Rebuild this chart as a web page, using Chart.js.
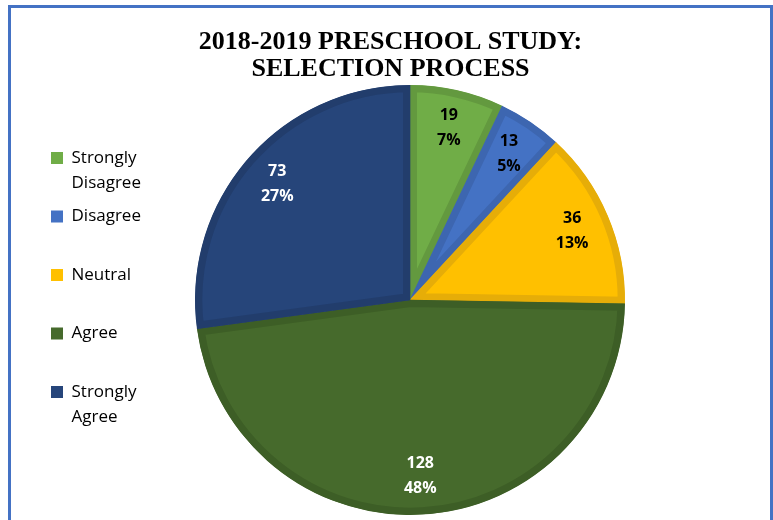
<!DOCTYPE html>
<html>
<head>
<meta charset="utf-8">
<script src="https://cdn.jsdelivr.net/npm/chart.js@4"></script>
<style>
  body { margin: 0; background: #fff; }
  #frame {
    position: absolute; left: 8px; top: 5px;
    width: 765px; height: 600px; box-sizing: border-box;
    border: 3px solid #4472C4; border-bottom: none;
  }
  #myChart { position: absolute; left: 0; top: 0; }
</style>
</head>
<body>
<div id="frame"></div>
<canvas id="myChart" width="773" height="520"></canvas>
<script>
// survey answers, clockwise from 12 o'clock
let categories = ['Strongly Disagree', 'Disagree', 'Neutral', 'Agree', 'Strongly Agree'];
let legendLines = [['Strongly', 'Disagree'], ['Disagree', ''], ['Neutral', ''], ['Agree', ''], ['Strongly', 'Agree']];
let counts = [19, 13, 36, 128, 73];
let fills = ['#70AD47', '#4472C4', '#FFC000', '#466A2C', '#26457A'];
let edges = ['#63993F', '#3D66B0', '#E6AD08', '#3D5E26', '#223D6C'];
let labelColors = ['#000', '#000', '#000', '#fff', '#fff'];

Chart.defaults.font.family = 'Open Sans';

// value + percent written inside each slice
const sliceLabels = {
  id: 'sliceLabels',
  afterDatasetsDraw(chart) {
    const ctx = chart.ctx;
    const total = counts.reduce((a, b) => a + b, 0);
    chart.getDatasetMeta(0).data.forEach((arc, i) => {
      const p = arc.getProps(['x', 'y', 'startAngle', 'endAngle', 'outerRadius'], true);
      const mid = (p.startAngle + p.endAngle) / 2;
      const r = p.outerRadius * 0.82;
      const cx = p.x + Math.cos(mid) * r;
      const cy = p.y + Math.sin(mid) * r;
      ctx.save();
      ctx.font = 'bold 16px "Open Sans"';
      ctx.fillStyle = labelColors[i];
      ctx.textAlign = 'center';
      ctx.textBaseline = 'middle';
      ctx.fillText(String(counts[i]), cx, cy - 12.5);
      ctx.fillText(Math.round(counts[i] / total * 100) + '%', cx, cy + 12.5);
      ctx.restore();
    });
  }
};

// legend takes little layout width so the pie sits right of centre;
// let its text run on into the empty space beside the pie
const wideLegend = {
  id: 'wideLegend',
  afterLayout(chart) {
    const lg = chart.legend;
    lg.right = lg.left + 150;
    lg.width = 150;
  }
};

let chart = new Chart(document.getElementById('myChart').getContext('2d'), {
  type: 'pie',
  data: {
    labels: categories,
    datasets: [{
      data: counts,
      backgroundColor: fills,
      borderColor: edges,
      borderWidth: 7,
      borderAlign: 'inner'
    }]
  },
  options: {
    responsive: false,
    animation: false,
    events: [],
    layout: { padding: { left: 42.5, right: 34.5, top: 0, bottom: 5 } },
    plugins: {
      title: {
        display: true,
        text: ['2018-2019 PRESCHOOL STUDY:', 'SELECTION PROCESS'],
        color: '#000',
        font: { family: '"Liberation Serif"', size: 26, weight: 'bold', lineHeight: 1.0385 },
        padding: { top: 28.5, bottom: 2.5 }
      },
      legend: {
        position: 'left',
        align: 'start',
        fullSize: false,
        maxWidth: 39,
        title: { display: true, text: '', font: { size: 12, lineHeight: 1 }, padding: { top: 44, bottom: 0 } },
        labels: {
          boxWidth: 12,
          boxHeight: 12,
          padding: 8.5,
          color: '#000',
          font: { size: 17, lineHeight: 25 / 17 },
          generateLabels(c) {
            const items = Chart.overrides.pie.plugins.legend.labels.generateLabels(c);
            items.forEach((it, i) => {
              it.text = legendLines[i];
              it.lineWidth = 0;
              it.strokeStyle = fills[i];
            });
            return items;
          }
        }
      },
      tooltip: { enabled: false }
    }
  },
  plugins: [sliceLabels, wideLegend]
});
</script>
</body>
</html>
